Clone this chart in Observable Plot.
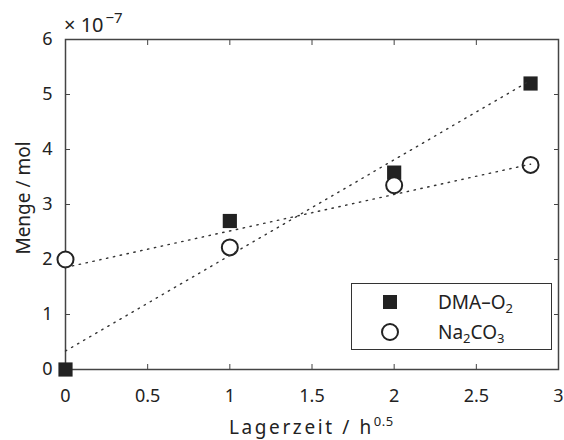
<!DOCTYPE html>
<html><head><meta charset="utf-8">
<script src="https://cdn.jsdelivr.net/npm/d3@7"></script>
<script src="https://cdn.jsdelivr.net/npm/@observablehq/plot@0.6"></script>
<style>
body{margin:0;background:#fff;font-family:"Noto Sans",sans-serif;}
#wrap{position:relative;width:564px;height:440px;overflow:hidden;}
.lab{position:absolute;color:#222;white-space:nowrap;line-height:1;}
.sup{vertical-align:baseline;position:relative;}
.sub{vertical-align:baseline;position:relative;top:4px;font-size:13px;}
#legend{position:absolute;left:351px;top:283px;width:199px;height:65px;border:1px solid #333;background:#fff;}
.row{position:absolute;left:0;height:26px;display:flex;align-items:center;line-height:1;}
</style></head><body><div id="wrap"></div>
<script>
// Data (Menge in units of 1e-7 mol)
const lagerzeit = [0, 1, 2, 2.83];
const dmaO2 = [0, 2.7, 3.58, 5.2];
const na2co3 = [2.0, 2.22, 3.35, 3.72];
const xTicks = [0, 0.5, 1, 1.5, 2, 2.5, 3];
const yTicks = [0, 1, 2, 3, 4, 5, 6];
const seriesNames = ["DMA–O2", "Na2CO3"];

const dma = lagerzeit.map((x, i) => ({x, y: dmaO2[i], s: seriesNames[0]}));
const na = lagerzeit.map((x, i) => ({x, y: na2co3[i], s: seriesNames[1]}));

const ink = "#222";
const axisCol = "#444";
const fnt = "18px";
const fmt = d => String(d);

const chart = Plot.plot({
  width: 564,
  height: 440,
  marginLeft: 65,
  marginRight: 6,
  marginTop: 39,
  marginBottom: 71,
  style: {fontFamily: "Noto Sans, sans-serif", fontSize: fnt, color: ink, background: "white"},
  x: {domain: [0, 3]},
  y: {domain: [0, 6]},
  marks: [
    Plot.frame({stroke: axisCol, strokeWidth: 1.5}),
    Plot.axisX(xTicks, {anchor: "bottom", tickSize: -5, tickPadding: 25, tickFormat: fmt, stroke: axisCol, label: null, fontSize: fnt}),
    Plot.axisX(xTicks, {anchor: "top", tickSize: -5, tickFormat: () => "", stroke: axisCol, label: null}),
    Plot.axisY(yTicks, {anchor: "left", tickSize: -5, tickPadding: 18, tickFormat: fmt, stroke: axisCol, label: null, fontSize: fnt}),
    Plot.axisY(yTicks, {anchor: "right", tickSize: -5, tickFormat: () => "", stroke: axisCol, label: null}),
    Plot.dot(dma, {x: "x", y: "y", symbol: "square", r: 8, fill: ink, stroke: "none"}),
    Plot.dot(na, {x: "x", y: "y", symbol: "circle", r: 8, fill: "white", stroke: ink, strokeWidth: 2}),
    Plot.linearRegressionY(dma, {x: "x", y: "y", ci: 0, stroke: "#333", strokeWidth: 1.4, strokeDasharray: "1.4 5.6", strokeLinecap: "round"}),
    Plot.linearRegressionY(na, {x: "x", y: "y", ci: 0, stroke: "#333", strokeWidth: 1.4, strokeDasharray: "1.4 5.6", strokeLinecap: "round"})
  ]
});

const wrap = document.getElementById("wrap");
wrap.appendChild(chart);

function addLabel(html, css) {
  const d = document.createElement("div");
  d.className = "lab";
  d.innerHTML = html;
  Object.assign(d.style, css);
  wrap.appendChild(d);
  return d;
}
addLabel("× 10<span class='sup' style='top:-9px;font-size:15px;margin-left:2px'>−7</span>", {left: "64px", top: "15px", fontSize: "20px"});
addLabel("Lagerzeit / h<span class='sup' style='top:-8px;font-size:13px;letter-spacing:0.5px'>0.5</span>", {left: "229px", top: "418px", letterSpacing: "2.6px", fontSize: "19px"});
addLabel("Menge / mol", {left: "23px", top: "198px", fontSize: "19px", transformOrigin: "0 0", transform: "rotate(-90deg) translate(-50%, -50%)"});

// legend
const lg = document.createElement("div");
lg.id = "legend";
const names = ["DMA–O<span class='sub'>2</span>", "Na<span class='sub'>2</span>CO<span class='sub'>3</span>"];
names.forEach((n, i) => {
  const r = document.createElement("div");
  r.className = "row";
  r.style.top = (i === 0 ? 5 : 35) + "px";
  const sym = i === 0
    ? `<svg width="20" height="20" style="margin-left:28px"><rect x="3" y="3" width="14" height="14" fill="${ink}"/></svg>`
    : `<svg width="22" height="22" style="margin-left:27px"><circle cx="11" cy="11" r="8" fill="white" stroke="${ink}" stroke-width="2"/></svg>`;
  r.innerHTML = sym + `<span style="margin-left:${i===0?38:37}px;font-size:19px;color:${ink}">${n}</span>`;
  lg.appendChild(r);
});
wrap.appendChild(lg);
</script></body></html>
